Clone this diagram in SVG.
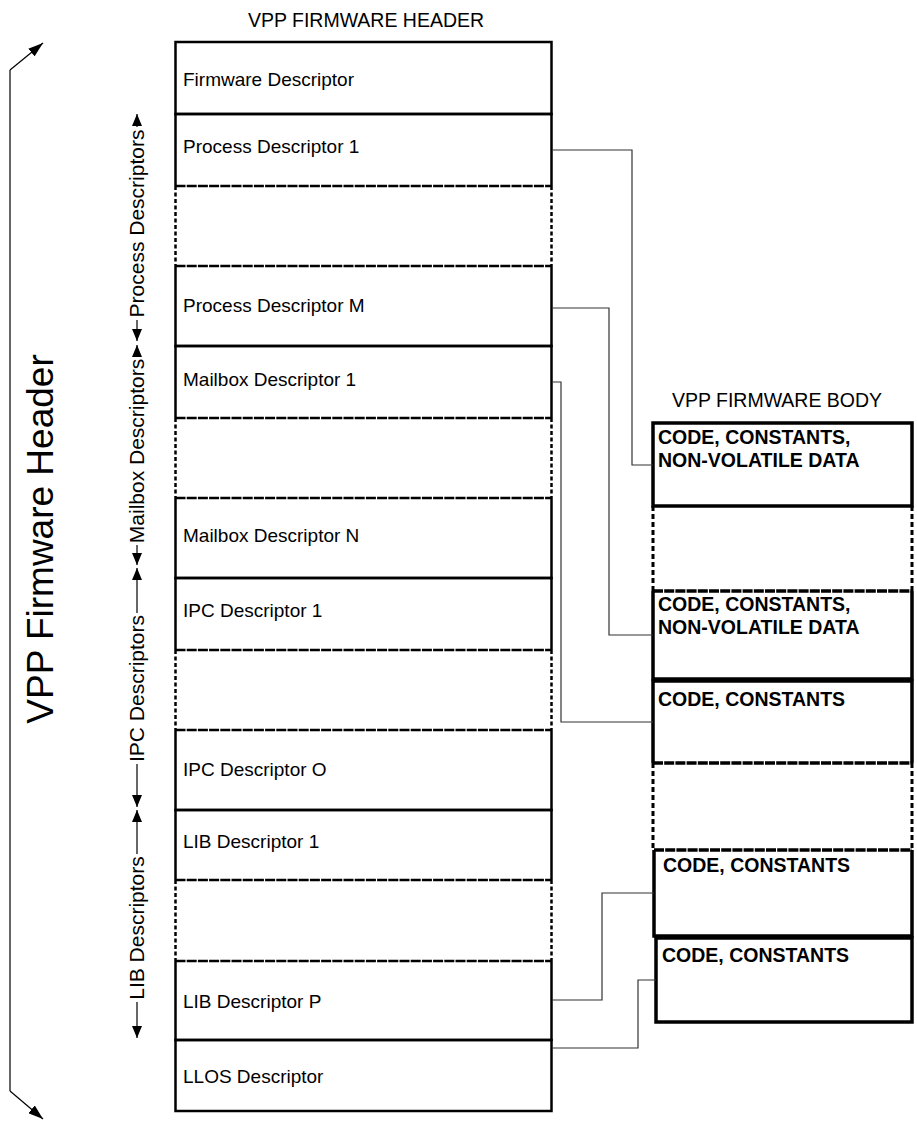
<svg xmlns="http://www.w3.org/2000/svg" width="917" height="1124" viewBox="0 0 917 1124">
<style>
  .s{fill:none;stroke:#000;stroke-width:2.5}
  .hd{fill:none;stroke:#000;stroke-width:2.5;stroke-dasharray:10 1.2}
  .vd{fill:none;stroke:#000;stroke-width:2.5;stroke-dasharray:4 2.5}
  .bs{fill:none;stroke:#000;stroke-width:3.5}
  .bhd{fill:none;stroke:#000;stroke-width:3.5;stroke-dasharray:10 1.2}
  .bvd{fill:none;stroke:#000;stroke-width:3;stroke-dasharray:5 3}
  .t{font-family:"Liberation Sans",Arial,sans-serif;font-size:19px;fill:#000}
  .title{font-family:"Liberation Sans",Arial,sans-serif;font-size:19.5px;fill:#000}
  .bt{font-family:"Liberation Sans",Arial,sans-serif;font-size:19.5px;font-weight:bold;fill:#000}
  .vl{font-family:"Liberation Sans",Arial,sans-serif;font-size:21px;fill:#000}
  .big{font-family:"Liberation Sans",Arial,sans-serif;font-size:37px;fill:#000}
  .conn{fill:none;stroke:#333;stroke-width:1.2}
  .al{fill:none;stroke:#000;stroke-width:1.2}
</style>
<defs>
  <marker id="ah" viewBox="0 0 12 10" refX="12" refY="5" markerWidth="12" markerHeight="10" markerUnits="userSpaceOnUse" orient="auto">
    <path d="M0,0 L12,5 L0,10 z" fill="#000"/>
  </marker>
  <marker id="ahb" viewBox="0 0 15 10" refX="15" refY="5" markerWidth="15" markerHeight="10" markerUnits="userSpaceOnUse" orient="auto">
    <path d="M0,0 L15,5 L0,10 z" fill="#000"/>
  </marker>
</defs>

<text class="title" x="366" y="27" text-anchor="middle">VPP FIRMWARE HEADER</text>
<text class="title" x="777" y="407" text-anchor="middle">VPP FIRMWARE BODY</text>

<!-- big bracket -->
<g id="header-bracket">
  <path class="al" d="M10,70 L10,1091"/>
  <path class="al" d="M10,70 L43,43" marker-end="url(#ahb)"/>
  <path class="al" d="M10,1091 L43,1119" marker-end="url(#ahb)"/>
  <text class="big" x="53" y="539" text-anchor="middle" transform="rotate(-90 53 539)">VPP Firmware Header</text>
</g>

<!-- group labels -->
<g id="label-process">
  <path class="al" d="M137,127 L137,114" marker-end="url(#ah)"/>
  <path class="al" d="M137,320 L137,341" marker-end="url(#ah)"/>
  <text class="vl" x="144" y="223.5" text-anchor="middle" transform="rotate(-90 144 223.5)">Process Descriptors</text>
</g>
<g id="label-mailbox">
  <path class="al" d="M137,357 L137,345" marker-end="url(#ah)"/>
  <path class="al" d="M137,545 L137,565" marker-end="url(#ah)"/>
  <text class="vl" x="144" y="451" text-anchor="middle" transform="rotate(-90 144 451)">Mailbox Descriptors</text>
</g>
<g id="label-ipc">
  <path class="al" d="M137,613 L137,568" marker-end="url(#ah)"/>
  <path class="al" d="M137,764 L137,807" marker-end="url(#ah)"/>
  <text class="vl" x="144" y="688.5" text-anchor="middle" transform="rotate(-90 144 688.5)">IPC Descriptors</text>
</g>
<g id="label-lib">
  <path class="al" d="M137,854 L137,810" marker-end="url(#ah)"/>
  <path class="al" d="M137,1002 L137,1038" marker-end="url(#ah)"/>
  <text class="vl" x="144" y="928" text-anchor="middle" transform="rotate(-90 144 928)">LIB Descriptors</text>
</g>

<!-- header column -->
<g id="firmware-descriptor">
  <rect class="s" x="175.5" y="42" width="376" height="72"/>
  <text class="t" x="183" y="86">Firmware Descriptor</text>
</g>
<g id="process-descriptor-1">
  <path class="s" d="M175.5,186 L175.5,114 L551.5,114 L551.5,186"/>
  <path class="hd" d="M175.5,186 L551.5,186"/>
  <text class="t" x="183" y="153">Process Descriptor 1</text>
</g>
<g id="process-gap">
  <path class="vd" d="M175.5,186 L175.5,266 M551.5,186 L551.5,266"/>
</g>
<g id="process-descriptor-m">
  <path class="hd" d="M175.5,266 L551.5,266"/>
  <path class="s" d="M175.5,266 L175.5,346 L551.5,346 L551.5,266"/>
  <text class="t" x="183" y="312">Process Descriptor M</text>
</g>
<g id="mailbox-descriptor-1">
  <path class="s" d="M175.5,418 L175.5,346 L551.5,346 L551.5,418"/>
  <path class="hd" d="M175.5,418 L551.5,418"/>
  <text class="t" x="183" y="386">Mailbox Descriptor 1</text>
</g>
<g id="mailbox-gap">
  <path class="vd" d="M175.5,418 L175.5,498 M551.5,418 L551.5,498"/>
</g>
<g id="mailbox-descriptor-n">
  <path class="hd" d="M175.5,498 L551.5,498"/>
  <path class="s" d="M175.5,498 L175.5,578 L551.5,578 L551.5,498"/>
  <text class="t" x="183" y="542">Mailbox Descriptor N</text>
</g>
<g id="ipc-descriptor-1">
  <path class="s" d="M175.5,650 L175.5,578 L551.5,578 L551.5,650"/>
  <path class="hd" d="M175.5,650 L551.5,650"/>
  <text class="t" x="183" y="617">IPC Descriptor 1</text>
</g>
<g id="ipc-gap">
  <path class="vd" d="M175.5,650 L175.5,730 M551.5,650 L551.5,730"/>
</g>
<g id="ipc-descriptor-o">
  <path class="hd" d="M175.5,730 L551.5,730"/>
  <path class="s" d="M175.5,730 L175.5,810 L551.5,810 L551.5,730"/>
  <text class="t" x="183" y="776">IPC Descriptor O</text>
</g>
<g id="lib-descriptor-1">
  <path class="s" d="M175.5,880 L175.5,810 L551.5,810 L551.5,880"/>
  <path class="hd" d="M175.5,880 L551.5,880"/>
  <text class="t" x="183" y="848">LIB Descriptor 1</text>
</g>
<g id="lib-gap">
  <path class="vd" d="M175.5,880 L175.5,961 M551.5,880 L551.5,961"/>
</g>
<g id="lib-descriptor-p">
  <path class="hd" d="M175.5,961 L551.5,961"/>
  <path class="s" d="M175.5,961 L175.5,1040 L551.5,1040 L551.5,961"/>
  <text class="t" x="183" y="1008">LIB Descriptor P</text>
</g>
<g id="llos-descriptor">
  <rect class="s" x="175.5" y="1040" width="376" height="71"/>
  <text class="t" x="183" y="1083">LLOS Descriptor</text>
</g>

<!-- body column -->
<g id="body-1">
  <rect class="bs" x="653" y="423" width="259" height="83"/>
  <text class="bt" x="658" y="444">CODE, CONSTANTS,</text>
  <text class="bt" x="658" y="467">NON-VOLATILE DATA</text>
</g>
<g id="body-gap-1">
  <path class="bvd" d="M653,506 L653,591 M912,506 L912,591"/>
</g>
<g id="body-2">
  <path class="bhd" d="M653,591 L912,591"/>
  <path class="bs" d="M653,591 L653,679 L912,679 L912,591"/>
  <text class="bt" x="658" y="611">CODE, CONSTANTS,</text>
  <text class="bt" x="658" y="634">NON-VOLATILE DATA</text>
</g>
<g id="body-3">
  <path class="bs" d="M653,763 L653,681 L912,681 L912,763"/>
  <path class="bhd" d="M653,763 L912,763"/>
  <text class="bt" x="658" y="706">CODE, CONSTANTS</text>
</g>
<g id="body-gap-2">
  <path class="bvd" d="M653,763 L653,850 M912,763 L912,850"/>
</g>
<g id="body-4">
  <path class="bhd" d="M654,850 L912,850"/>
  <path class="bs" d="M654,850 L654,936 L912,936 L912,850"/>
  <text class="bt" x="663" y="872">CODE, CONSTANTS</text>
</g>
<g id="body-5">
  <rect class="bs" x="656" y="938" width="256" height="84"/>
  <text class="bt" x="662" y="962">CODE, CONSTANTS</text>
</g>

<!-- connectors -->
<g id="connectors">
  <polyline class="conn" points="552,150 632,150 632,465 653,465"/>
  <polyline class="conn" points="552,308 609,308 609,635 653,635"/>
  <polyline class="conn" points="552,382 561,382 561,722 653,722"/>
  <polyline class="conn" points="552,1000 602,1000 602,893 654,893"/>
  <polyline class="conn" points="552,1048 638,1048 638,980 656,980"/>
</g>
</svg>
